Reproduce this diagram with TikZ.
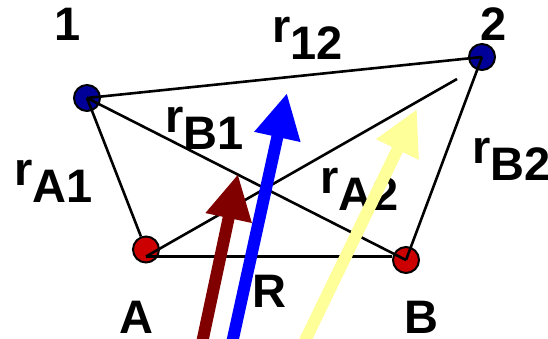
\documentclass[tikz,border=0pt]{standalone}
\usepackage{fontspec}
\setmainfont{Liberation Sans}
\usetikzlibrary{arrows.meta}
\definecolor{sitenavy}{RGB}{0,0,153}
\definecolor{sitered}{RGB}{204,0,0}
\definecolor{vecmaroon}{RGB}{128,0,0}
\definecolor{vecblue}{RGB}{0,0,255}
\definecolor{vecyellow}{RGB}{255,255,153}
\newcommand\lowsub[1]{\lower17pt\hbox{#1}}

\begin{document}
\begin{tikzpicture}[
    x=1pt, y=-1pt,
    site/.style={circle, draw=black, line width=2pt, minimum size=26pt, inner sep=0pt},
    nuc/.style={site, fill=sitenavy},
    elec/.style={site, fill=sitered},
    bond/.style={line width=2.6pt},
    vec/.style={line width=12pt, -{Triangle[length=45pt, width=44pt]}},
    lbl/.style={font=\fontsize{47}{50}\selectfont\bfseries, inner sep=0pt, anchor=base west},
  ]
    \useasboundingbox (0,0) rectangle (548,338);
    % nuclei 1, 2 and electrons A, B
    \node[nuc] (n1) at (87,98) {};
    \node[nuc] (n2) at (482,57) {};
    \node[elec] (A) at (146,249.5) {};
    \node[elec] (B) at (406,260) {};
    \coordinate (a2end) at (457,79);
    % distances
    \draw[bond] (n1.center) -- (n2.center);
    \draw[bond] (n1.center) -- (A);
    \draw[bond] (n1.center) -- (B.center);
    \draw[bond] (n2.center) -- (B.center);
    \draw[bond] ([yshift=-7pt]A.center) -- (a2end);
    \draw[bond] ([yshift=-7pt]A.center) -- ([yshift=3.5pt]B.west);
    % labels
    \node[lbl] (l1) at (54,40) {1};
    \node[lbl] (l2) at (480,40) {2};
    \node[lbl] (r12) at (272,42) {r\lowsub{12}};
    \node[lbl] (rB1) at (165,132) {r\lowsub{B1}};
    \node[lbl] (rA1) at (14,185) {r\lowsub{A1}};
    \node[lbl] (rA2) at (320,193) {r\lowsub{A2}};
    \node[lbl] (rB2) at (472,163) {r\lowsub{B2}};
    \node[lbl] (lA) at (119,333) {A};
    \node[lbl] (lB) at (404,333) {B};
    \node[lbl] (lR) at (252,307) {R};
    % position vectors
    \coordinate (tailM) at (200.5,350);
    \coordinate (tipM) at (238,174);
    \coordinate (tailU) at (230.5,350);
    \coordinate (tipU) at (287,93);
    \coordinate (tailY) at (300.5,350);
    \coordinate (tipY) at (417,109);
    \draw[vec, vecmaroon] (tailM) -- (tipM);
    \draw[vec, vecblue] (tailU) -- (tipU);
    \draw[vec, vecyellow] (tailY) -- (tipY);
\end{tikzpicture}
\end{document}
